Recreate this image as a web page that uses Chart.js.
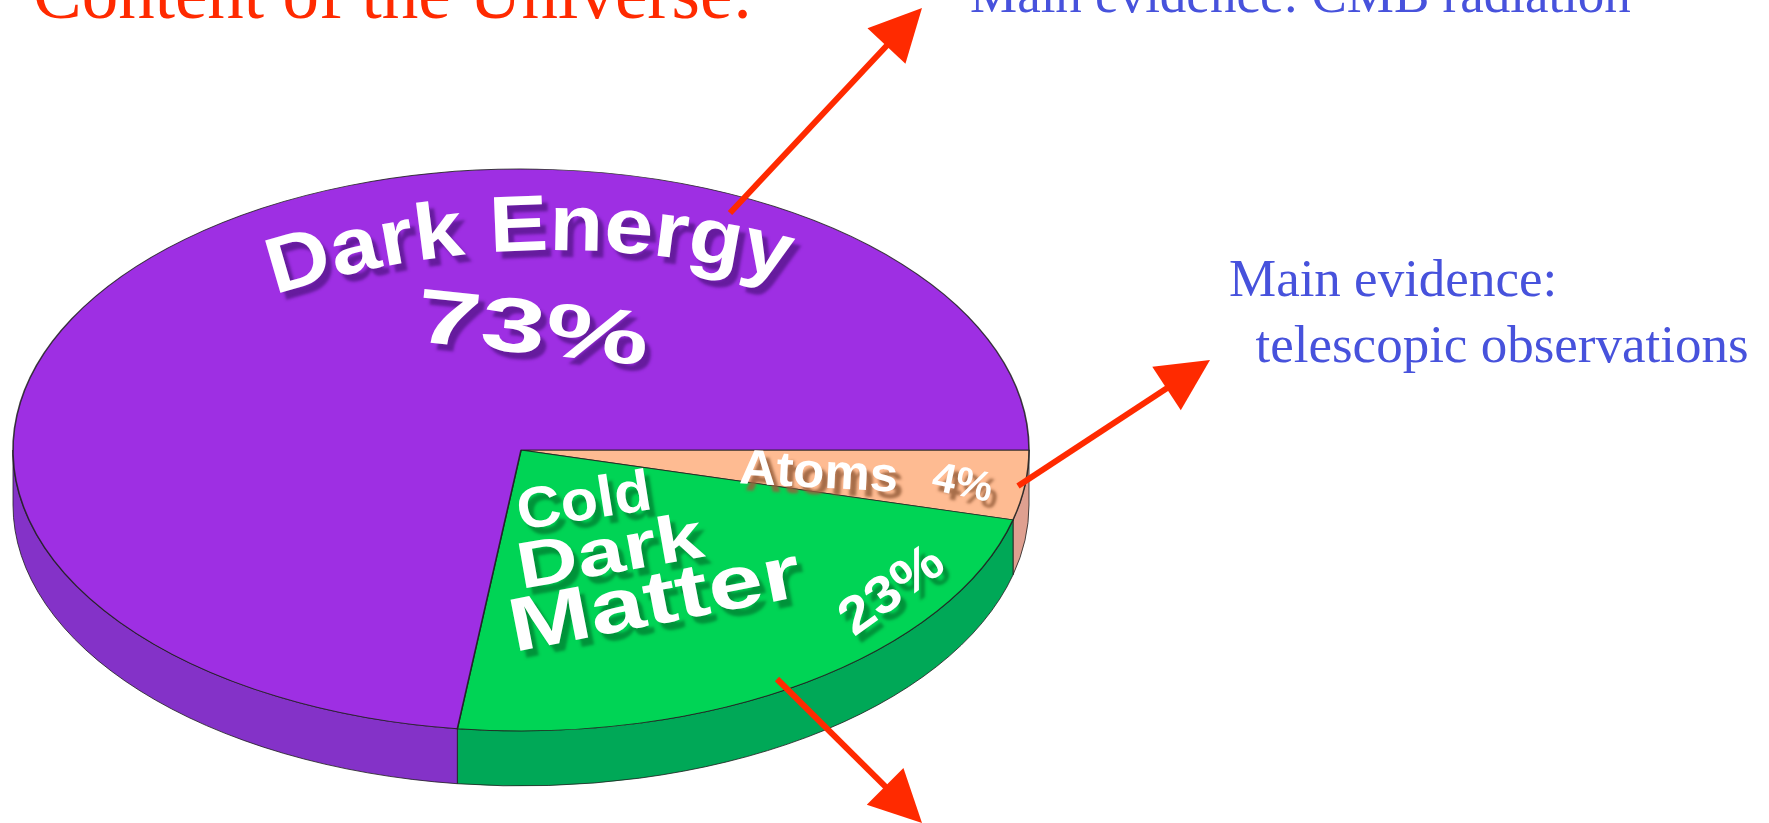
<!DOCTYPE html>
<html>
<head>
<meta charset="utf-8">
<script src="https://cdn.jsdelivr.net/npm/chart.js@4.4.1/dist/chart.umd.min.js"></script>
<style>
  html, body { margin: 0; padding: 0; background: #fff; overflow: hidden; }
  #wrap { position: relative; width: 1769px; height: 823px; }
  canvas { display: block; }
</style>
</head>
<body>
<div id="wrap"><canvas id="universe"></canvas></div>
<script>
// Composition of the universe, in percent
const components = ['Atoms', 'Cold Dark Matter', 'Dark Energy'];
const shares = [4, 23, 73];

// Surface, wall and text-shadow colours per slice
const topColors = ['#FEBB92', '#00D455', '#9E2FE3'];
const sideColors = ['#DFA090', '#00A857', '#8432C8'];
const shadowColors = ['rgba(150,95,60,0.85)', 'rgba(0,140,55,0.9)', 'rgba(95,25,150,0.9)'];

// Annotation texts
const titleText = 'Content of the Universe:';
const cmbText = 'Main evidence: CMB radiation';
const teleLines = ['Main evidence:', '  telescopic observations'];

const TILT = 0.553;   // vertical squash of the disc (tilted view)
const DEPTH = 55;     // thickness of the disc in px
const TWO_PI = Math.PI * 2;

const pct = i => shares[i] + '%';

// Extruded wall + tilted top surface
const disc3d = {
  id: 'disc3d',
  beforeDatasetsDraw(chart) {
    const ctx = chart.ctx;
    const arcs = chart.getDatasetMeta(0).data;
    const cx = arcs[0].x, cy = arcs[0].y;
    const rx = arcs[0].outerRadius, ry = rx * TILT;
    arcs.forEach((arc, i) => {
      const span = arc.endAngle - arc.startAngle;
      const s = ((arc.startAngle % TWO_PI) + TWO_PI) % TWO_PI;
      const e = s + span;
      // only the front half of the rim is visible
      [[0, Math.PI], [TWO_PI, TWO_PI + Math.PI]].forEach(([lo, hi]) => {
        const a = Math.max(s, lo), b = Math.min(e, hi);
        if (b <= a) return;
        ctx.beginPath();
        ctx.ellipse(cx, cy, rx, ry, 0, a, b);
        ctx.lineTo(cx + rx * Math.cos(b), cy + ry * Math.sin(b) + DEPTH);
        ctx.ellipse(cx, cy + DEPTH, rx, ry, 0, b, a, true);
        ctx.closePath();
        ctx.fillStyle = sideColors[i];
        ctx.fill();
        ctx.lineWidth = 1;
        ctx.strokeStyle = 'rgba(30,30,30,0.8)';
        ctx.stroke();
      });
    });
    ctx.save();
    ctx.translate(cx, cy);
    ctx.scale(1, TILT);
    ctx.translate(-cx, -cy);
  },
  afterDatasetsDraw(chart) {
    const ctx = chart.ctx;
    ctx.restore();
    drawSliceLabels(ctx);
    drawAnnotations(ctx);
  }
};

function withShadow(ctx, color, fn) {
  ctx.save();
  ctx.shadowColor = color;
  ctx.shadowOffsetX = 6;
  ctx.shadowOffsetY = 7;
  ctx.shadowBlur = 3;
  fn();
  ctx.restore();
}

function setLabelFont(ctx, size, align) {
  ctx.font = 'bold ' + size + 'px "Liberation Sans", Arial, sans-serif';
  ctx.textAlign = align;
  ctx.textBaseline = 'alphabetic';
  ctx.fillStyle = '#ffffff';
}

// text centred (on its cap height) at x,y, rotated and scaled
function label(ctx, text, x, y, rotDeg, size, sx, sy) {
  ctx.save();
  ctx.translate(x, y);
  ctx.rotate(rotDeg * Math.PI / 180);
  ctx.scale(sx, sy);
  setLabelFont(ctx, size, 'center');
  ctx.fillText(text, 0, size * 0.358);
  ctx.restore();
}

// same, anchored on the left end of the baseline
function labelLeft(ctx, text, x, y, rotDeg, size, sx, sy) {
  ctx.save();
  ctx.translate(x, y);
  ctx.rotate(rotDeg * Math.PI / 180);
  ctx.scale(sx, sy);
  setLabelFont(ctx, size, 'left');
  ctx.fillText(text, 0, 0);
  ctx.restore();
}

// text laid out along a circular arc (centre cx,cy; baseline radius r),
// the middle of the text sitting at angle midDeg from the top
function arcLabel(ctx, text, cx, cy, r, midDeg, size, sy) {
  ctx.save();
  setLabelFont(ctx, size, 'left');
  const widths = [...text].map(ch => ctx.measureText(ch).width);
  const total = widths.reduce((p, q) => p + q, 0);
  let ang = midDeg * Math.PI / 180 - (total / r) / 2;
  [...text].forEach((ch, k) => {
    const w = widths[k];
    const a = ang + (w / 2) / r;
    ctx.save();
    ctx.translate(cx + r * Math.sin(a), cy - r * Math.cos(a));
    ctx.rotate(a);
    ctx.scale(1, sy);
    ctx.fillText(ch, -w / 2, 0);
    ctx.restore();
    ang += w / r;
  });
  ctx.restore();
}

function drawSliceLabels(ctx) {
  const cdm = components[1].split(' ');
  withShadow(ctx, shadowColors[2], () => {
    arcLabel(ctx, components[2], 556, 1150, 900, -1.7, 88, 0.9);
    label(ctx, pct(2), 533, 326, 6, 108, 1.08, 0.71);
  });
  withShadow(ctx, shadowColors[0], () => {
    label(ctx, components[0], 819, 470, 3, 50, 1.02, 0.98);
    label(ctx, pct(0), 963, 481, 12, 42, 1, 1);
  });
  withShadow(ctx, shadowColors[1], () => {
    labelLeft(ctx, cdm[0], 520, 530, -9, 61, 1, 0.95);
    labelLeft(ctx, cdm[1], 521, 589, -10, 82, 1.03, 0.8);
    labelLeft(ctx, cdm[2], 514, 652, -11, 88, 1.12, 0.86);
    label(ctx, pct(1), 890, 588, -36, 58, 1, 0.9);
  });
}

// pointer arrows to the evidence notes
const arrows = [
  { from: [730, 213], to: [922, 8] },
  { from: [1018, 486], to: [1210, 360] },
  { from: [777, 679], to: [922, 823] }
];

function drawArrow(ctx, from, to) {
  const [x0, y0] = from, [x1, y1] = to;
  const ang = Math.atan2(y1 - y0, x1 - x0);
  const head = 52, half = 26;
  const bx = x1 - head * Math.cos(ang), by = y1 - head * Math.sin(ang);
  ctx.save();
  ctx.strokeStyle = '#FF2A00';
  ctx.fillStyle = '#FF2A00';
  ctx.lineWidth = 6;
  ctx.beginPath();
  ctx.moveTo(x0, y0);
  ctx.lineTo(bx + 4 * Math.cos(ang), by + 4 * Math.sin(ang));
  ctx.stroke();
  ctx.beginPath();
  ctx.moveTo(x1, y1);
  ctx.lineTo(bx + half * Math.sin(ang), by - half * Math.cos(ang));
  ctx.lineTo(bx - half * Math.sin(ang), by + half * Math.cos(ang));
  ctx.closePath();
  ctx.fill();
  ctx.restore();
}

function drawAnnotations(ctx) {
  arrows.forEach(a => drawArrow(ctx, a.from, a.to));
  ctx.save();
  ctx.textAlign = 'left';
  ctx.textBaseline = 'alphabetic';
  ctx.fillStyle = '#FF2A00';
  ctx.font = '73px "Liberation Serif", "Times New Roman", serif';
  ctx.fillText(titleText, 33, 18);
  ctx.fillStyle = '#4752DC';
  ctx.font = '53px "Liberation Serif", "Times New Roman", serif';
  ctx.fillText(cmbText, 970, 12);
  ctx.fillText(teleLines[0], 1229, 296);
  ctx.fillText(teleLines[1], 1229, 362);
  ctx.restore();
}

const canvas = document.getElementById('universe');
canvas.width = 1769;
canvas.height = 823;

new Chart(canvas, {
  type: 'pie',
  data: {
    labels: components,
    datasets: [{
      data: shares,
      backgroundColor: topColors,
      borderColor: 'rgba(30,30,30,0.85)',
      borderWidth: 1.6,
      radius: 508,
      clip: false
    }]
  },
  options: {
    responsive: false,
    animation: false,
    events: [],
    rotation: 90,
    layout: { padding: { left: 0, top: 77, right: 727, bottom: 0 } },
    plugins: {
      legend: { display: false },
      tooltip: { enabled: false },
      title: { display: false }
    }
  },
  plugins: [disc3d]
});
</script>
</body>
</html>
